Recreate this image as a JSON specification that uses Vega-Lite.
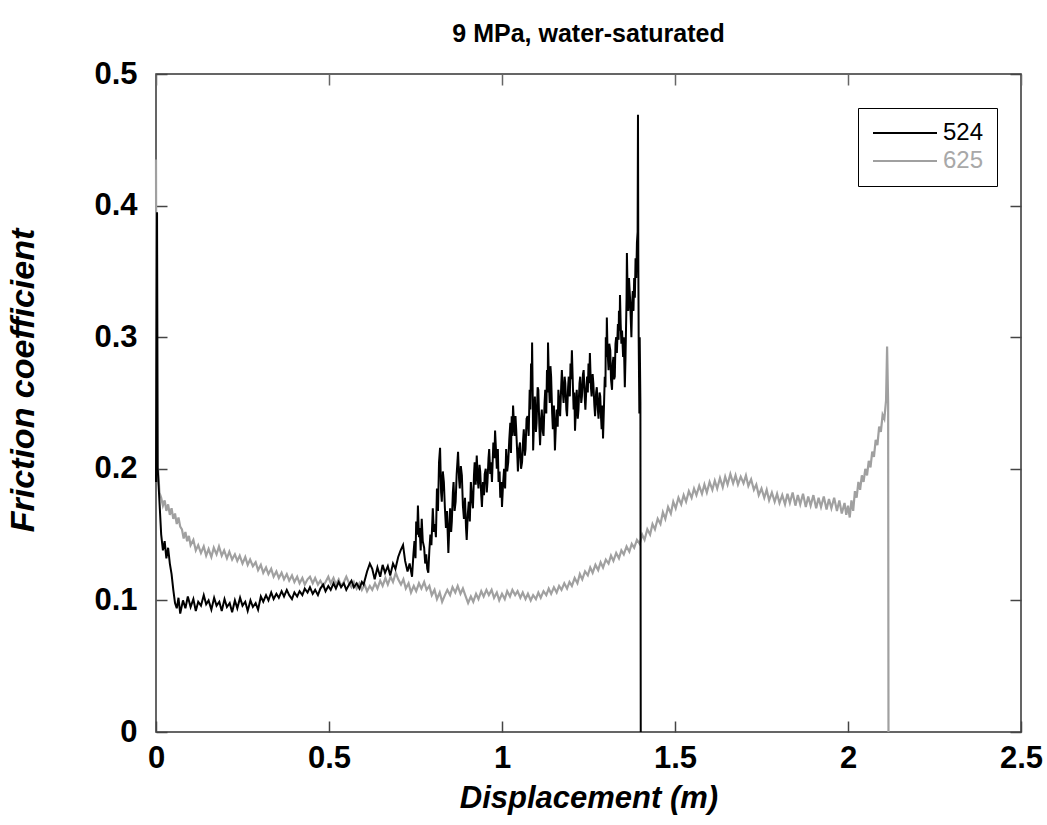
{
"$schema":"https://vega.github.io/schema/vega-lite/v6.json",
"width":865,"height":658,
"autosize":"none",
"padding":{"left":156,"top":74,"right":26,"bottom":93},
"background":"white",
"config":{"view":{"stroke":"#333","strokeWidth":1.5},"font":"Liberation Sans"},
"title":{"text":"9 MPa, water-saturated","fontSize":25,"fontWeight":"bold","font":"Liberation Sans","color":"#000","offset":11,"anchor":"middle"},
"datasets":{
"g":[{"d":0,"f":0.435},{"d":0.002,"f":0.19},{"d":0.006,"f":0.2},{"d":0.01,"f":0.182},{"d":0.015,"f":0.178},{"d":0.02,"f":0.172},{"d":0.025,"f":0.176},{"d":0.03,"f":0.168},{"d":0.035,"f":0.173},{"d":0.04,"f":0.165},{"d":0.045,"f":0.17},{"d":0.05,"f":0.162},{"d":0.055,"f":0.166},{"d":0.06,"f":0.158},{"d":0.065,"f":0.163},{"d":0.07,"f":0.156},{"d":0.075,"f":0.154},{"d":0.08,"f":0.147},{"d":0.085,"f":0.152},{"d":0.09,"f":0.145},{"d":0.095,"f":0.149},{"d":0.1,"f":0.142},{"d":0.108,"f":0.146},{"d":0.115,"f":0.138},{"d":0.122,"f":0.142},{"d":0.13,"f":0.136},{"d":0.138,"f":0.141},{"d":0.145,"f":0.134},{"d":0.152,"f":0.139},{"d":0.16,"f":0.133},{"d":0.167,"f":0.14},{"d":0.175,"f":0.135},{"d":0.182,"f":0.141},{"d":0.19,"f":0.134},{"d":0.197,"f":0.138},{"d":0.205,"f":0.132},{"d":0.212,"f":0.137},{"d":0.22,"f":0.131},{"d":0.228,"f":0.135},{"d":0.235,"f":0.13},{"d":0.242,"f":0.134},{"d":0.25,"f":0.128},{"d":0.258,"f":0.133},{"d":0.265,"f":0.127},{"d":0.272,"f":0.131},{"d":0.28,"f":0.126},{"d":0.288,"f":0.129},{"d":0.295,"f":0.123},{"d":0.303,"f":0.127},{"d":0.31,"f":0.121},{"d":0.318,"f":0.125},{"d":0.325,"f":0.12},{"d":0.333,"f":0.124},{"d":0.34,"f":0.118},{"d":0.348,"f":0.122},{"d":0.355,"f":0.117},{"d":0.363,"f":0.121},{"d":0.37,"f":0.116},{"d":0.378,"f":0.12},{"d":0.385,"f":0.115},{"d":0.393,"f":0.119},{"d":0.4,"f":0.114},{"d":0.408,"f":0.118},{"d":0.415,"f":0.113},{"d":0.423,"f":0.117},{"d":0.43,"f":0.112},{"d":0.438,"f":0.116},{"d":0.445,"f":0.118},{"d":0.453,"f":0.113},{"d":0.46,"f":0.117},{"d":0.468,"f":0.112},{"d":0.475,"f":0.115},{"d":0.483,"f":0.111},{"d":0.49,"f":0.114},{"d":0.498,"f":0.118},{"d":0.505,"f":0.113},{"d":0.513,"f":0.117},{"d":0.52,"f":0.112},{"d":0.528,"f":0.116},{"d":0.535,"f":0.111},{"d":0.543,"f":0.114},{"d":0.55,"f":0.118},{"d":0.558,"f":0.113},{"d":0.565,"f":0.11},{"d":0.572,"f":0.114},{"d":0.58,"f":0.109},{"d":0.588,"f":0.113},{"d":0.595,"f":0.108},{"d":0.603,"f":0.112},{"d":0.61,"f":0.107},{"d":0.618,"f":0.111},{"d":0.625,"f":0.108},{"d":0.633,"f":0.113},{"d":0.64,"f":0.109},{"d":0.648,"f":0.115},{"d":0.655,"f":0.111},{"d":0.663,"f":0.117},{"d":0.67,"f":0.112},{"d":0.678,"f":0.118},{"d":0.685,"f":0.114},{"d":0.693,"f":0.121},{"d":0.7,"f":0.116},{"d":0.708,"f":0.112},{"d":0.715,"f":0.116},{"d":0.722,"f":0.109},{"d":0.73,"f":0.113},{"d":0.737,"f":0.106},{"d":0.745,"f":0.111},{"d":0.752,"f":0.107},{"d":0.76,"f":0.113},{"d":0.767,"f":0.109},{"d":0.775,"f":0.114},{"d":0.782,"f":0.108},{"d":0.79,"f":0.111},{"d":0.797,"f":0.104},{"d":0.805,"f":0.108},{"d":0.812,"f":0.101},{"d":0.82,"f":0.106},{"d":0.827,"f":0.099},{"d":0.835,"f":0.104},{"d":0.842,"f":0.108},{"d":0.85,"f":0.104},{"d":0.857,"f":0.11},{"d":0.865,"f":0.106},{"d":0.872,"f":0.111},{"d":0.88,"f":0.105},{"d":0.887,"f":0.109},{"d":0.895,"f":0.103},{"d":0.902,"f":0.098},{"d":0.91,"f":0.103},{"d":0.917,"f":0.099},{"d":0.925,"f":0.105},{"d":0.932,"f":0.101},{"d":0.94,"f":0.107},{"d":0.947,"f":0.103},{"d":0.955,"f":0.108},{"d":0.962,"f":0.104},{"d":0.97,"f":0.108},{"d":0.977,"f":0.102},{"d":0.985,"f":0.106},{"d":0.992,"f":0.1},{"d":1,"f":0.105},{"d":1.008,"f":0.101},{"d":1.015,"f":0.107},{"d":1.023,"f":0.103},{"d":1.03,"f":0.108},{"d":1.038,"f":0.104},{"d":1.045,"f":0.107},{"d":1.053,"f":0.102},{"d":1.06,"f":0.106},{"d":1.068,"f":0.101},{"d":1.075,"f":0.105},{"d":1.083,"f":0.1},{"d":1.09,"f":0.104},{"d":1.098,"f":0.101},{"d":1.105,"f":0.106},{"d":1.112,"f":0.102},{"d":1.12,"f":0.107},{"d":1.128,"f":0.104},{"d":1.135,"f":0.109},{"d":1.142,"f":0.105},{"d":1.15,"f":0.11},{"d":1.158,"f":0.106},{"d":1.165,"f":0.111},{"d":1.172,"f":0.108},{"d":1.18,"f":0.113},{"d":1.188,"f":0.109},{"d":1.195,"f":0.114},{"d":1.202,"f":0.111},{"d":1.21,"f":0.117},{"d":1.218,"f":0.113},{"d":1.225,"f":0.12},{"d":1.232,"f":0.116},{"d":1.24,"f":0.122},{"d":1.248,"f":0.119},{"d":1.255,"f":0.125},{"d":1.262,"f":0.121},{"d":1.27,"f":0.127},{"d":1.278,"f":0.123},{"d":1.285,"f":0.129},{"d":1.292,"f":0.125},{"d":1.3,"f":0.131},{"d":1.308,"f":0.128},{"d":1.315,"f":0.134},{"d":1.322,"f":0.13},{"d":1.33,"f":0.136},{"d":1.338,"f":0.132},{"d":1.345,"f":0.138},{"d":1.352,"f":0.135},{"d":1.36,"f":0.141},{"d":1.368,"f":0.137},{"d":1.375,"f":0.143},{"d":1.382,"f":0.14},{"d":1.39,"f":0.146},{"d":1.398,"f":0.143},{"d":1.405,"f":0.15},{"d":1.412,"f":0.146},{"d":1.42,"f":0.154},{"d":1.428,"f":0.15},{"d":1.435,"f":0.158},{"d":1.442,"f":0.154},{"d":1.45,"f":0.162},{"d":1.458,"f":0.158},{"d":1.465,"f":0.167},{"d":1.472,"f":0.162},{"d":1.48,"f":0.171},{"d":1.488,"f":0.166},{"d":1.495,"f":0.175},{"d":1.502,"f":0.17},{"d":1.51,"f":0.178},{"d":1.518,"f":0.173},{"d":1.525,"f":0.18},{"d":1.532,"f":0.175},{"d":1.54,"f":0.183},{"d":1.548,"f":0.178},{"d":1.555,"f":0.185},{"d":1.562,"f":0.18},{"d":1.57,"f":0.187},{"d":1.578,"f":0.181},{"d":1.585,"f":0.188},{"d":1.592,"f":0.182},{"d":1.6,"f":0.19},{"d":1.608,"f":0.184},{"d":1.615,"f":0.191},{"d":1.622,"f":0.185},{"d":1.63,"f":0.193},{"d":1.638,"f":0.186},{"d":1.645,"f":0.194},{"d":1.652,"f":0.188},{"d":1.66,"f":0.196},{"d":1.668,"f":0.189},{"d":1.675,"f":0.195},{"d":1.682,"f":0.188},{"d":1.69,"f":0.194},{"d":1.698,"f":0.189},{"d":1.705,"f":0.195},{"d":1.712,"f":0.187},{"d":1.72,"f":0.192},{"d":1.728,"f":0.184},{"d":1.735,"f":0.188},{"d":1.742,"f":0.18},{"d":1.75,"f":0.185},{"d":1.758,"f":0.178},{"d":1.765,"f":0.184},{"d":1.772,"f":0.176},{"d":1.78,"f":0.182},{"d":1.788,"f":0.175},{"d":1.795,"f":0.181},{"d":1.802,"f":0.174},{"d":1.81,"f":0.18},{"d":1.818,"f":0.173},{"d":1.825,"f":0.181},{"d":1.832,"f":0.174},{"d":1.84,"f":0.182},{"d":1.848,"f":0.172},{"d":1.855,"f":0.18},{"d":1.862,"f":0.173},{"d":1.87,"f":0.181},{"d":1.878,"f":0.171},{"d":1.885,"f":0.179},{"d":1.892,"f":0.172},{"d":1.9,"f":0.18},{"d":1.908,"f":0.17},{"d":1.915,"f":0.178},{"d":1.922,"f":0.171},{"d":1.93,"f":0.179},{"d":1.938,"f":0.169},{"d":1.945,"f":0.177},{"d":1.952,"f":0.17},{"d":1.96,"f":0.178},{"d":1.968,"f":0.168},{"d":1.975,"f":0.176},{"d":1.982,"f":0.166},{"d":1.99,"f":0.174},{"d":1.995,"f":0.165},{"d":2,"f":0.172},{"d":2.005,"f":0.163},{"d":2.01,"f":0.176},{"d":2.015,"f":0.168},{"d":2.02,"f":0.183},{"d":2.025,"f":0.178},{"d":2.03,"f":0.19},{"d":2.035,"f":0.184},{"d":2.04,"f":0.195},{"d":2.045,"f":0.19},{"d":2.05,"f":0.2},{"d":2.055,"f":0.195},{"d":2.06,"f":0.206},{"d":2.065,"f":0.201},{"d":2.07,"f":0.213},{"d":2.075,"f":0.209},{"d":2.08,"f":0.222},{"d":2.085,"f":0.218},{"d":2.09,"f":0.232},{"d":2.095,"f":0.228},{"d":2.1,"f":0.241},{"d":2.105,"f":0.238},{"d":2.11,"f":0.252},{"d":2.113,"f":0.293},{"d":2.116,"f":0.25},{"d":2.117,"f":0}],
"b":[{"d":0,"f":0.19},{"d":0.003,"f":0.395},{"d":0.005,"f":0.2},{"d":0.01,"f":0.175},{"d":0.015,"f":0.15},{"d":0.02,"f":0.138},{"d":0.025,"f":0.145},{"d":0.03,"f":0.132},{"d":0.035,"f":0.14},{"d":0.04,"f":0.128},{"d":0.045,"f":0.12},{"d":0.05,"f":0.108},{"d":0.055,"f":0.098},{"d":0.06,"f":0.094},{"d":0.065,"f":0.102},{"d":0.07,"f":0.09},{"d":0.078,"f":0.1},{"d":0.085,"f":0.094},{"d":0.092,"f":0.103},{"d":0.1,"f":0.095},{"d":0.108,"f":0.101},{"d":0.115,"f":0.092},{"d":0.122,"f":0.099},{"d":0.13,"f":0.096},{"d":0.138,"f":0.104},{"d":0.145,"f":0.097},{"d":0.152,"f":0.1},{"d":0.16,"f":0.093},{"d":0.168,"f":0.102},{"d":0.175,"f":0.096},{"d":0.183,"f":0.099},{"d":0.19,"f":0.092},{"d":0.198,"f":0.101},{"d":0.205,"f":0.095},{"d":0.213,"f":0.098},{"d":0.22,"f":0.091},{"d":0.228,"f":0.1},{"d":0.235,"f":0.094},{"d":0.243,"f":0.102},{"d":0.25,"f":0.096},{"d":0.258,"f":0.099},{"d":0.265,"f":0.092},{"d":0.273,"f":0.1},{"d":0.28,"f":0.095},{"d":0.288,"f":0.098},{"d":0.295,"f":0.093},{"d":0.303,"f":0.103},{"d":0.31,"f":0.099},{"d":0.318,"f":0.104},{"d":0.325,"f":0.1},{"d":0.333,"f":0.106},{"d":0.34,"f":0.101},{"d":0.348,"f":0.105},{"d":0.355,"f":0.102},{"d":0.363,"f":0.107},{"d":0.37,"f":0.103},{"d":0.378,"f":0.108},{"d":0.385,"f":0.104},{"d":0.393,"f":0.101},{"d":0.4,"f":0.106},{"d":0.408,"f":0.103},{"d":0.415,"f":0.107},{"d":0.423,"f":0.104},{"d":0.43,"f":0.109},{"d":0.438,"f":0.106},{"d":0.445,"f":0.11},{"d":0.453,"f":0.105},{"d":0.46,"f":0.108},{"d":0.468,"f":0.104},{"d":0.475,"f":0.109},{"d":0.483,"f":0.112},{"d":0.49,"f":0.107},{"d":0.498,"f":0.111},{"d":0.505,"f":0.108},{"d":0.513,"f":0.113},{"d":0.52,"f":0.109},{"d":0.528,"f":0.114},{"d":0.535,"f":0.11},{"d":0.543,"f":0.113},{"d":0.55,"f":0.108},{"d":0.558,"f":0.112},{"d":0.565,"f":0.115},{"d":0.572,"f":0.11},{"d":0.58,"f":0.113},{"d":0.588,"f":0.109},{"d":0.595,"f":0.114},{"d":0.6,"f":0.112},{"d":0.61,"f":0.122},{"d":0.618,"f":0.128},{"d":0.625,"f":0.124},{"d":0.632,"f":0.116},{"d":0.64,"f":0.125},{"d":0.648,"f":0.118},{"d":0.655,"f":0.127},{"d":0.662,"f":0.121},{"d":0.67,"f":0.126},{"d":0.677,"f":0.119},{"d":0.685,"f":0.128},{"d":0.692,"f":0.124},{"d":0.7,"f":0.133},{"d":0.707,"f":0.138},{"d":0.714,"f":0.142},{"d":0.72,"f":0.13},{"d":0.727,"f":0.122},{"d":0.733,"f":0.128},{"d":0.74,"f":0.118},{"d":0.744,"f":0.135},{"d":0.747,"f":0.145},{"d":0.75,"f":0.132},{"d":0.752,"f":0.16},{"d":0.755,"f":0.15},{"d":0.757,"f":0.172},{"d":0.76,"f":0.148},{"d":0.762,"f":0.155},{"d":0.765,"f":0.138},{"d":0.768,"f":0.162},{"d":0.771,"f":0.145},{"d":0.775,"f":0.14},{"d":0.778,"f":0.128},{"d":0.781,"f":0.135},{"d":0.784,"f":0.124},{"d":0.787,"f":0.121},{"d":0.79,"f":0.138},{"d":0.793,"f":0.15},{"d":0.796,"f":0.142},{"d":0.8,"f":0.17},{"d":0.803,"f":0.152},{"d":0.806,"f":0.158},{"d":0.809,"f":0.148},{"d":0.812,"f":0.185},{"d":0.815,"f":0.168},{"d":0.818,"f":0.205},{"d":0.821,"f":0.216},{"d":0.824,"f":0.182},{"d":0.826,"f":0.175},{"d":0.829,"f":0.198},{"d":0.832,"f":0.19},{"d":0.835,"f":0.17},{"d":0.838,"f":0.155},{"d":0.841,"f":0.168},{"d":0.845,"f":0.136},{"d":0.848,"f":0.158},{"d":0.85,"f":0.17},{"d":0.853,"f":0.152},{"d":0.855,"f":0.16},{"d":0.858,"f":0.182},{"d":0.86,"f":0.19},{"d":0.863,"f":0.168},{"d":0.866,"f":0.175},{"d":0.869,"f":0.196},{"d":0.873,"f":0.213},{"d":0.876,"f":0.192},{"d":0.878,"f":0.185},{"d":0.881,"f":0.202},{"d":0.884,"f":0.195},{"d":0.887,"f":0.172},{"d":0.89,"f":0.162},{"d":0.893,"f":0.178},{"d":0.896,"f":0.155},{"d":0.898,"f":0.146},{"d":0.901,"f":0.165},{"d":0.904,"f":0.175},{"d":0.907,"f":0.16},{"d":0.91,"f":0.19},{"d":0.913,"f":0.178},{"d":0.916,"f":0.17},{"d":0.919,"f":0.195},{"d":0.921,"f":0.205},{"d":0.924,"f":0.188},{"d":0.927,"f":0.21},{"d":0.93,"f":0.192},{"d":0.932,"f":0.185},{"d":0.935,"f":0.203},{"d":0.937,"f":0.198},{"d":0.94,"f":0.18},{"d":0.942,"f":0.171},{"d":0.945,"f":0.19},{"d":0.948,"f":0.18},{"d":0.95,"f":0.196},{"d":0.953,"f":0.2},{"d":0.956,"f":0.182},{"d":0.958,"f":0.19},{"d":0.961,"f":0.208},{"d":0.963,"f":0.215},{"d":0.966,"f":0.196},{"d":0.968,"f":0.205},{"d":0.971,"f":0.19},{"d":0.975,"f":0.22},{"d":0.978,"f":0.208},{"d":0.98,"f":0.229},{"d":0.983,"f":0.212},{"d":0.985,"f":0.2},{"d":0.988,"f":0.215},{"d":0.99,"f":0.19},{"d":0.993,"f":0.198},{"d":0.995,"f":0.178},{"d":0.998,"f":0.19},{"d":1,"f":0.171},{"d":1.003,"f":0.188},{"d":1.006,"f":0.2},{"d":1.009,"f":0.185},{"d":1.012,"f":0.215},{"d":1.015,"f":0.198},{"d":1.018,"f":0.205},{"d":1.021,"f":0.222},{"d":1.024,"f":0.235},{"d":1.026,"f":0.212},{"d":1.028,"f":0.24},{"d":1.03,"f":0.225},{"d":1.032,"f":0.248},{"d":1.035,"f":0.232},{"d":1.037,"f":0.225},{"d":1.039,"f":0.24},{"d":1.041,"f":0.23},{"d":1.044,"f":0.212},{"d":1.046,"f":0.198},{"d":1.049,"f":0.215},{"d":1.052,"f":0.22},{"d":1.055,"f":0.2},{"d":1.058,"f":0.205},{"d":1.061,"f":0.222},{"d":1.063,"f":0.23},{"d":1.066,"f":0.21},{"d":1.068,"f":0.215},{"d":1.071,"f":0.238},{"d":1.074,"f":0.24},{"d":1.077,"f":0.225},{"d":1.08,"f":0.26},{"d":1.082,"f":0.245},{"d":1.084,"f":0.28},{"d":1.086,"f":0.262},{"d":1.087,"f":0.296},{"d":1.089,"f":0.25},{"d":1.09,"f":0.214},{"d":1.093,"f":0.24},{"d":1.095,"f":0.255},{"d":1.098,"f":0.228},{"d":1.1,"f":0.235},{"d":1.103,"f":0.262},{"d":1.105,"f":0.26},{"d":1.108,"f":0.232},{"d":1.11,"f":0.218},{"d":1.113,"f":0.238},{"d":1.115,"f":0.245},{"d":1.118,"f":0.228},{"d":1.12,"f":0.225},{"d":1.123,"f":0.25},{"d":1.125,"f":0.26},{"d":1.128,"f":0.242},{"d":1.13,"f":0.275},{"d":1.132,"f":0.258},{"d":1.133,"f":0.296},{"d":1.136,"f":0.262},{"d":1.138,"f":0.25},{"d":1.14,"f":0.278},{"d":1.142,"f":0.27},{"d":1.145,"f":0.242},{"d":1.147,"f":0.23},{"d":1.15,"f":0.248},{"d":1.153,"f":0.214},{"d":1.156,"f":0.235},{"d":1.158,"f":0.245},{"d":1.161,"f":0.232},{"d":1.163,"f":0.26},{"d":1.166,"f":0.248},{"d":1.168,"f":0.24},{"d":1.171,"f":0.262},{"d":1.173,"f":0.275},{"d":1.176,"f":0.258},{"d":1.178,"f":0.25},{"d":1.181,"f":0.27},{"d":1.183,"f":0.265},{"d":1.186,"f":0.245},{"d":1.188,"f":0.24},{"d":1.191,"f":0.262},{"d":1.193,"f":0.27},{"d":1.196,"f":0.255},{"d":1.198,"f":0.28},{"d":1.2,"f":0.268},{"d":1.202,"f":0.29},{"d":1.205,"f":0.262},{"d":1.207,"f":0.245},{"d":1.209,"f":0.258},{"d":1.211,"f":0.229},{"d":1.214,"f":0.248},{"d":1.216,"f":0.26},{"d":1.219,"f":0.238},{"d":1.221,"f":0.245},{"d":1.224,"f":0.265},{"d":1.226,"f":0.27},{"d":1.229,"f":0.25},{"d":1.231,"f":0.255},{"d":1.234,"f":0.272},{"d":1.236,"f":0.275},{"d":1.239,"f":0.255},{"d":1.241,"f":0.245},{"d":1.244,"f":0.262},{"d":1.246,"f":0.27},{"d":1.248,"f":0.258},{"d":1.25,"f":0.28},{"d":1.252,"f":0.265},{"d":1.254,"f":0.288},{"d":1.257,"f":0.262},{"d":1.259,"f":0.255},{"d":1.262,"f":0.272},{"d":1.264,"f":0.265},{"d":1.267,"f":0.248},{"d":1.269,"f":0.24},{"d":1.272,"f":0.258},{"d":1.274,"f":0.262},{"d":1.277,"f":0.245},{"d":1.279,"f":0.238},{"d":1.282,"f":0.258},{"d":1.284,"f":0.255},{"d":1.286,"f":0.24},{"d":1.288,"f":0.23},{"d":1.29,"f":0.248},{"d":1.292,"f":0.223},{"d":1.295,"f":0.25},{"d":1.297,"f":0.27},{"d":1.299,"f":0.262},{"d":1.3,"f":0.3},{"d":1.302,"f":0.285},{"d":1.303,"f":0.315},{"d":1.305,"f":0.29},{"d":1.308,"f":0.275},{"d":1.31,"f":0.295},{"d":1.313,"f":0.29},{"d":1.315,"f":0.268},{"d":1.318,"f":0.26},{"d":1.32,"f":0.28},{"d":1.322,"f":0.285},{"d":1.324,"f":0.268},{"d":1.326,"f":0.27},{"d":1.328,"f":0.295},{"d":1.33,"f":0.3},{"d":1.332,"f":0.288},{"d":1.335,"f":0.31},{"d":1.337,"f":0.298},{"d":1.338,"f":0.32},{"d":1.34,"f":0.305},{"d":1.341,"f":0.332},{"d":1.343,"f":0.31},{"d":1.345,"f":0.295},{"d":1.347,"f":0.305},{"d":1.35,"f":0.285},{"d":1.352,"f":0.3},{"d":1.355,"f":0.262},{"d":1.357,"f":0.285},{"d":1.358,"f":0.3},{"d":1.36,"f":0.33},{"d":1.361,"f":0.364},{"d":1.363,"f":0.335},{"d":1.365,"f":0.32},{"d":1.367,"f":0.345},{"d":1.37,"f":0.33},{"d":1.372,"f":0.315},{"d":1.374,"f":0.3},{"d":1.376,"f":0.325},{"d":1.378,"f":0.335},{"d":1.38,"f":0.32},{"d":1.382,"f":0.345},{"d":1.384,"f":0.33},{"d":1.386,"f":0.36},{"d":1.388,"f":0.345},{"d":1.39,"f":0.372},{"d":1.392,"f":0.38},{"d":1.393,"f":0.469},{"d":1.394,"f":0.36},{"d":1.395,"f":0.3},{"d":1.397,"f":0.242},{"d":1.398,"f":0.3},{"d":1.4,"f":0.25},{"d":1.401,"f":0}]
},
"layer":[
{"data":{"name":"g"},
 "mark":{"type":"line","strokeWidth":2.2},
 "encoding":{
  "x":{"field":"d","type":"quantitative","scale":{"domain":[0,2.5],"nice":false},
   "axis":{"values":[0,0.5,1,1.5,2,2.5],"labelExpr":"format(datum.value,'~g')","labelFlush":false,"grid":false,"domain":false,"tickSize":-11,"tickColor":"#444","tickWidth":1.5,"labelFontSize":31,"labelFontWeight":"bold","labelColor":"#000","labelPadding":22,"title":"Displacement (m)","titleFontSize":31,"titleFontWeight":"bold","titleFontStyle":"italic","titleColor":"#000","titlePadding":10}},
  "y":{"field":"f","type":"quantitative","scale":{"domain":[0,0.5],"nice":false},
   "axis":{"values":[0,0.1,0.2,0.3,0.4,0.5],"labelExpr":"format(datum.value,'~g')","labelFlush":false,"grid":false,"domain":false,"tickSize":-11,"tickColor":"#444","tickWidth":1.5,"labelFontSize":31,"labelFontWeight":"bold","labelColor":"#000","labelPadding":30,"title":"Friction coefficient","titleFontSize":34,"titleFontWeight":"bold","titleFontStyle":"italic","titleColor":"#000","titleX":-116,"titleY":306}},
  "color":{"datum":"625","type":"nominal","scale":{"domain":["524","625"],"range":["#000000","#a0a0a0"]},
   "legend":{"orient":"none","legendX":702,"legendY":34,"title":null,"strokeColor":"#000","fillColor":"#fff","padding":13,"symbolType":"M-1.25,0H6.75","symbolSize":256,"symbolStrokeWidth":2,"labelFontSize":24,"labelFont":"Liberation Sans","labelOffset":48,"rowPadding":4,"labelColor":{"expr":"datum.value === '524' ? '#000000' : '#a8a8a8'"}}}
 }},
{"data":{"name":"b"},
 "mark":{"type":"line","strokeWidth":2},
 "encoding":{
  "x":{"field":"d","type":"quantitative","axis":null},
  "y":{"field":"f","type":"quantitative","axis":null},
  "color":{"datum":"524","type":"nominal"}
 }},
{"data":{"name":"b"},
 "mark":{"type":"line","opacity":0},
 "encoding":{
  "x":{"field":"d","type":"quantitative","axis":{"orient":"top","values":[0,0.5,1,1.5,2,2.5],"labels":false,"title":null,"grid":false,"domain":false,"tickSize":-11,"tickColor":"#666","tickWidth":1.5}},
  "y":{"field":"f","type":"quantitative","axis":{"orient":"right","values":[0,0.1,0.2,0.3,0.4,0.5],"labels":false,"title":null,"grid":false,"domain":false,"tickSize":-11,"tickColor":"#444","tickWidth":1.5}}
 }}
],
"resolve":{"axis":{"x":"independent","y":"independent"}}
}
